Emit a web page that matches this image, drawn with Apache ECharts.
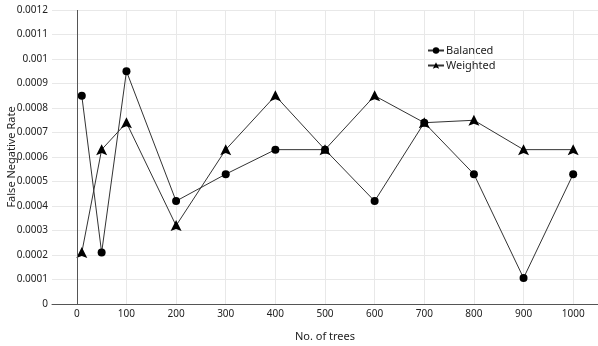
<!DOCTYPE html>
<html>
<head>
<meta charset="utf-8">
<script src="https://cdn.jsdelivr.net/npm/echarts@6/dist/echarts.min.js"></script>
<style>
  html, body { margin: 0; padding: 0; background: #fff; }
  #chart { width: 598px; height: 346px; }
</style>
</head>
<body>
<div id="chart"></div>
<script>
// Number of trees in the forest
const trees = [10, 50, 100, 200, 300, 400, 500, 600, 700, 800, 900, 1000];
// False negative rate per forest size
const balanced = [0.00085, 0.00021, 0.00095, 0.00042, 0.00053, 0.00063, 0.00063, 0.00042, 0.00074, 0.00053, 0.000106, 0.00053];
const weighted = [0.00021, 0.00063, 0.00074, 0.00032, 0.00063, 0.00085, 0.00063, 0.00085, 0.00074, 0.00075, 0.00063, 0.00063];
// Labelled positions on the x axis
const xTicks = [0, 100, 200, 300, 400, 500, 600, 700, 800, 900, 1000];

const font = '"Noto Sans", "Open Sans", sans-serif';
const arrowHead = 'path://M0,-10 L7,6 L0,3 L-7,6 Z';

const chart = echarts.init(document.getElementById('chart'), null, { renderer: 'canvas' });
chart.setOption({
  animation: false,
  backgroundColor: '#fff',
  textStyle: { fontFamily: font },
  grid: { left: 52, right: 0, top: 10, bottom: 42, containLabel: false, outerBoundsMode: 'none' },
  legend: {
    orient: 'vertical',
    left: 422,
    top: 40,
    itemGap: 4,
    itemWidth: 16,
    itemHeight: 8,
    textStyle: { fontFamily: font, fontSize: 11, color: '#222', padding: [0, 0, 0, -3] },
    data: ['Balanced', 'Weighted']
  },
  xAxis: {
    type: 'value',
    min: -50,
    max: 1050,
    name: 'No. of trees',
    nameLocation: 'middle',
    nameGap: 27,
    nameMoveOverlap: false,
    nameTextStyle: { fontFamily: font, fontSize: 11, color: '#222' },
    axisLine: { show: true, lineStyle: { color: '#555', width: 1 } },
    axisTick: { show: false, customValues: xTicks },
    axisLabel: { customValues: xTicks, fontFamily: font, fontSize: 10, color: '#222', margin: 5, formatter: v => String(v) },
    splitLine: { show: true, lineStyle: { color: '#e8e8e8', width: 1 } }
  },
  yAxis: {
    type: 'value',
    min: 0,
    max: 0.0012,
    interval: 0.0001,
    name: 'False Negative Rate',
    nameLocation: 'middle',
    nameGap: 35,
    nameMoveOverlap: false,
    nameTextStyle: { fontFamily: font, fontSize: 11, color: '#222' },
    axisLine: { show: false },
    axisTick: { show: false },
    axisLabel: {
      fontFamily: font, fontSize: 10, color: '#222', margin: 4,
      formatter: v => (v === 0 ? '0' : String(parseFloat(v.toFixed(4))))
    },
    splitLine: { show: true, lineStyle: { color: '#e8e8e8', width: 1 } }
  },
  series: [
    {
      name: 'Balanced',
      type: 'line',
      data: trees.map((t, i) => [t, balanced[i]]),
      symbol: 'circle',
      symbolSize: 8,
      itemStyle: { color: '#000' },
      lineStyle: { color: '#333', width: 1 },
      markLine: {
        silent: true,
        symbol: 'none',
        label: { show: false },
        lineStyle: { color: '#555', width: 1, type: 'solid' },
        data: [{ xAxis: 0 }]
      }
    },
    {
      name: 'Weighted',
      type: 'line',
      data: trees.map((t, i) => [t, weighted[i]]),
      symbol: arrowHead,
      symbolSize: [11, 11],
      itemStyle: { color: '#000' },
      lineStyle: { color: '#333', width: 1 }
    }
  ]
});
</script>
</body>
</html>
